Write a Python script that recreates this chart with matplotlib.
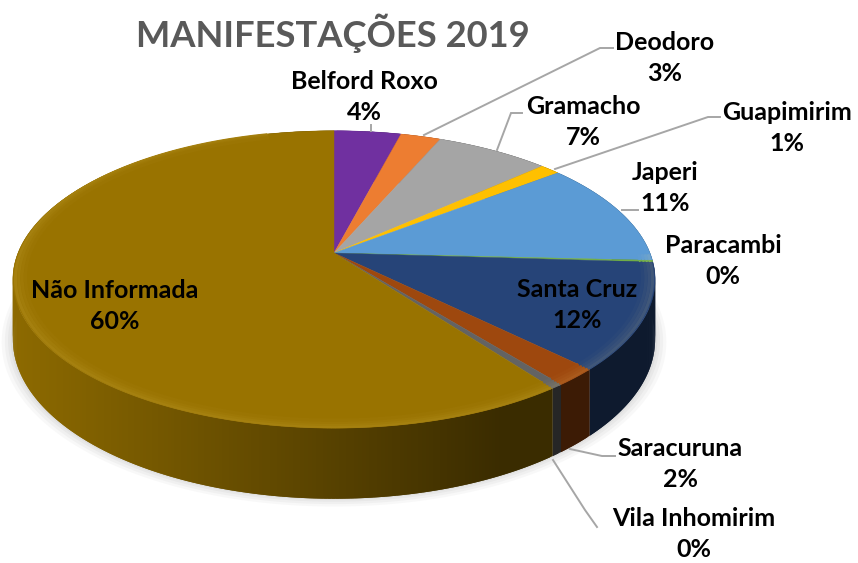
import numpy as np
import matplotlib
matplotlib.use("Agg")
import matplotlib.pyplot as plt

# ---------- data ----------
names = ["Belford Roxo", "Deodoro", "Gramacho", "Guapimirim", "Japeri", "Paracambi",
         "Santa Cruz", "Saracuruna", "Vila Inhomirim", "Não Informada"]
shares = [4.0, 2.4, 6.8, 1.2, 11.4, 0.2, 11.5, 1.9, 0.5, 60.1]
pct_labels = ["4%", "3%", "7%", "1%", "11%", "0%", "12%", "2%", "0%", "60%"]
colors = ["#7030A0", "#ED7D31", "#A5A5A5", "#FFC000", "#5B9BD5", "#70AD47",
          "#264478", "#9E480E", "#636363", "#997300"]

# label block centres, in pixels
label_x = [364, 665, 583, 787, 665, 723, 577, 680, 694, 115]
label_y = [97, 58, 122, 128, 188, 261, 305, 464, 534, 306]

# leader lines, in pixels
leaders = [
    [(371, 125), (371, 131)],
    [(424, 135), (600, 48), (613, 48)],
    [(497, 150), (511, 113), (522, 113)],
    [(555, 169), (708, 117), (720, 117)],
    [(622, 210), (638, 210)],
    [(570, 449), (602, 456), (615, 456)],
    [(553, 460), (585, 510), (597, 527)],
]

# pie geometry, in pixels
CX, CY = 334, 253
RX, RY = 316, 144
P = 0.178       # perspective strength
DEPTH = 58

FONT = ["Lato", "DejaVu Sans"]


def project(theta, r=1.0, drop=0.0):
    s = 1 / (1 + P * r * np.cos(theta))
    return CX + RX * r * np.sin(theta) * s, CY - RY * r * np.cos(theta) * s + drop * s


def blend(color, other, k):
    c = np.array(matplotlib.colors.to_rgb(color))
    o = np.array(matplotlib.colors.to_rgb(other))
    return tuple(c * (1 - k) + o * k)


def wall_shade(x):
    # walls are lit from the left and go dark towards the front right
    return np.clip(0.38 + 0.54 * (500 - x) / 486, 0.38, 0.92)


fig = plt.figure(figsize=(8.58, 5.63), dpi=100)
ax = fig.add_axes([0, 0, 1, 1])
ax.set_xlim(0, 858)
ax.set_ylim(563, 0)
ax.axis("off")

edges = 2 * np.pi * np.cumsum([0] + shares) / sum(shares)

# soft shadow round the body
ring = np.linspace(0, 2 * np.pi, 360)
for grow, a in zip([1.035, 1.025, 1.015, 1.007], [0.05, 0.06, 0.07, 0.08]):
    sx, sy = project(ring, 1.0, DEPTH - 3)
    ax.fill(CX + (sx - CX) * grow, CY + 3 + (sy - CY) * grow, color="#808080", alpha=a, lw=0, zorder=1)

# outer walls, cut in small strips; each strip runs under the next one so no seams show
for i, color in enumerate(colors):
    n = max(2, int((edges[i + 1] - edges[i]) / 0.01))
    th = np.linspace(edges[i], edges[i + 1], n + 1)
    for j in range(n):
        t0, t1 = th[j], th[min(j + 2, n)]
        xa, ya = project(np.array([t0, t1]))
        xb, yb = project(np.array([t1, t0]), 1.0, DEPTH)
        f = wall_shade((xa[0] + xa[1]) / 2)
        col = tuple(np.array(matplotlib.colors.to_rgb(color)) * f)
        ax.fill(np.r_[xa, xb], np.r_[ya, yb], facecolor=col, edgecolor="none", lw=0, zorder=2)

# top face
for i, color in enumerate(colors):
    th = np.linspace(edges[i], edges[i + 1], max(3, int((edges[i + 1] - edges[i]) / 0.01)))
    x, y = project(th)
    ax.fill(np.r_[CX, x], np.r_[CY, y], color=color, lw=0.3, zorder=3)

# bevel along the front rim
for r, k in zip([0.992, 0.982, 0.972, 0.962], [0.12, 0.08, 0.05, 0.02]):
    for i, color in enumerate(colors):
        th = np.linspace(edges[i], edges[i + 1], max(3, int((edges[i + 1] - edges[i]) / 0.01)))
        th = th[(th > np.pi / 2) & (th < 2 * np.pi - 0.25)]
        if len(th) < 2:
            continue
        x, y = project(th, r)
        ax.plot(x, y, color=blend(color, "#ffe080", k), lw=2.4, solid_capstyle="butt", zorder=4)

for pts in leaders:
    xs, ys = zip(*pts)
    ax.plot(xs, ys, color="#A6A6A6", lw=1.4, solid_joinstyle="miter", zorder=5)

for name, pct, x, y in zip(names, pct_labels, label_x, label_y):
    ax.text(x, y, f"{name}\n{pct}", ha="center", va="center", multialignment="center",
            fontsize=18, fontweight="bold", family=FONT, color="black", linespacing=1.38, zorder=6)

ax.text(333, 33, "MANIFESTAÇÕES 2019", ha="center", va="center", fontsize=26.2,
        fontweight="bold", family=FONT, color="#595959", zorder=6)

fig.savefig("out.png", dpi=100)
